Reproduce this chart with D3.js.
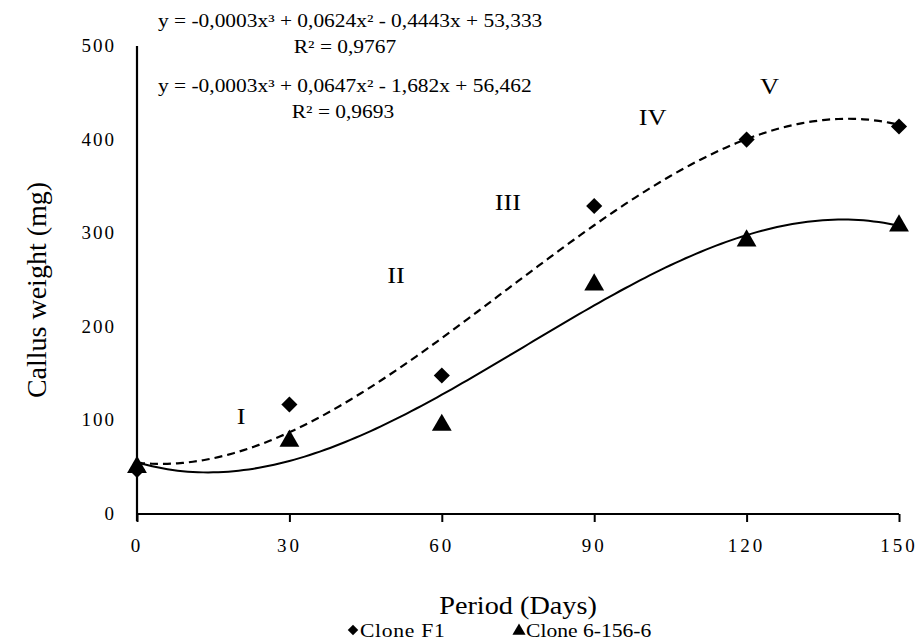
<!DOCTYPE html>
<html><head><meta charset="utf-8">
<script src="https://cdn.jsdelivr.net/npm/d3@7"></script>
<style>
html,body{margin:0;padding:0;background:#fff;}
text{font-family:"Liberation Serif","Times New Roman",serif;fill:#000;}
</style></head>
<body><svg id="c" width="917" height="641"></svg>
<script>
const days = [0, 30, 60, 90, 120, 150];
const cloneF1 = [47, 117, 148, 329, 400, 414];
const clone6156 = [50, 78, 95, 245, 292, 308];
const xTicks = [0, 30, 60, 90, 120, 150];
const yTicks = [0, 100, 200, 300, 400, 500];
const seriesNames = ["Clone F1", "Clone 6-156-6"];
const equations = ["y = -0,0003x³ + 0,0624x² - 0,4443x + 53,333", "R² = 0,9767",
                   "y = -0,0003x³ + 0,0647x² - 1,682x + 56,462", "R² = 0,9693"];
const phases = [{t:"I", x:20.5, y:105}, {t:"II", x:51, y:255}, {t:"III", x:73, y:333}, {t:"IV", x:101.5, y:424}, {t:"V", x:124.5, y:457}];

const svg = d3.select("#c");
const x = d3.scaleLinear().domain([0,150]).range([137,899]);
const y = d3.scaleLinear().domain([0,500]).range([514,46]);

// cubic least squares fit (trendline)
function fitCubic(xs, ys){
  const n=4, A=[...Array(n)].map(()=>Array(n+1).fill(0));
  xs.forEach((xv,k)=>{
    for(let i=0;i<n;i++){ for(let j=0;j<n;j++) A[i][j]+=Math.pow(xv,i+j); A[i][n]+=ys[k]*Math.pow(xv,i); }
  });
  for(let i=0;i<n;i++){
    let p=i; for(let r=i+1;r<n;r++) if(Math.abs(A[r][i])>Math.abs(A[p][i])) p=r;
    [A[i],A[p]]=[A[p],A[i]];
    for(let r=0;r<n;r++){ if(r===i) continue; const f=A[r][i]/A[i][i]; for(let c=i;c<=n;c++) A[r][c]-=f*A[i][c]; }
  }
  const c=A.map((row,i)=>row[n]/row[i]);
  return t=>c[0]+c[1]*t+c[2]*t*t+c[3]*t*t*t;
}
const f1 = fitCubic(days, cloneF1), f2 = fitCubic(days, clone6156);
const samples = d3.range(0,150.01,1);
const line = fn => d3.line().x(d=>x(d)).y(d=>y(fn(d)))(samples);

svg.append("path").attr("d", line(f1)).attr("fill","none").attr("stroke","#000").attr("stroke-width",2.2).attr("stroke-dasharray","8,5");
svg.append("path").attr("d", line(f2)).attr("fill","none").attr("stroke","#000").attr("stroke-width",2);

// axes
const xa = svg.append("g").attr("transform","translate(0,514)")
  .call(d3.axisBottom(x).tickValues(xTicks).tickSize(8).tickFormat(""));
xa.select(".domain").attr("stroke","#000").attr("stroke-width",2.2).attr("d","M137,0H899");
xa.selectAll(".tick line").attr("stroke","#000").attr("stroke-width",2);
const ya = svg.append("g").attr("transform","translate(137,0)")
  .call(d3.axisLeft(y).tickValues(yTicks).tickSize(0).tickFormat(""));
ya.select(".domain").attr("stroke","#000").attr("stroke-width",2.2).attr("d","M0,46V521");

// helper: horizontally stretched text
function stext(g, px, py, sx, str){
  return g.append("text").attr("transform",`translate(${px},${py}) scale(${sx},1)`).text(str);
}

// tick labels (letter-spaced like the reference)
svg.append("g").selectAll("text").data(xTicks).join("text")
  .attr("x",d=>x(d)).attr("y",552).attr("text-anchor","middle")
  .attr("font-size",19).attr("letter-spacing",3).text(d=>d);
svg.append("g").selectAll("text").data(yTicks).join("text")
  .attr("x",116).attr("y",d=>y(d)+6).attr("text-anchor","end")
  .attr("font-size",19).attr("letter-spacing",2).text(d=>d);

// axis titles
stext(svg, 518, 614, 1.13, "Period (Days)").attr("text-anchor","middle").attr("font-size",25);
svg.append("text").attr("transform","translate(46,290) rotate(-90)").attr("text-anchor","middle").attr("font-size",28).text("Callus weight (mg)");

// markers
const diamond = d3.symbol().type(d3.symbolSquare).size(130)();
const tri = d3.symbol().type(d3.symbolTriangle).size(170)();
svg.append("g").selectAll("path").data(days).join("path")
  .attr("d",tri).attr("transform",(d,i)=>`translate(${x(d)},${y(clone6156[i])})`).attr("fill","#000");
svg.append("g").selectAll("path").data(days).join("path")
  .attr("d",diamond).attr("transform",(d,i)=>`translate(${x(d)},${y(cloneF1[i])}) rotate(45)`).attr("fill","#000");

// equations
const eq = svg.append("g").attr("font-size",18);
stext(eq, 158, 27, 1.19, equations[0]);
stext(eq, 345, 53, 1.19, equations[1]).attr("text-anchor","middle");
stext(eq, 158, 92, 1.19, equations[2]);
stext(eq, 343, 118, 1.19, equations[3]).attr("text-anchor","middle");

// phase labels
svg.append("g").selectAll("text").data(phases).join("text")
  .attr("transform",d=>`translate(${x(d.x)},${y(d.y)}) scale(1.1,1)`).attr("text-anchor","middle").attr("dominant-baseline","central")
  .attr("font-size",24).text(d=>d.t);

// legend
const lg = svg.append("g").attr("font-size",18);
lg.append("path").attr("d",d3.symbol().type(d3.symbolSquare).size(55)()).attr("transform","translate(353,630) rotate(45)");
stext(lg, 360, 637, 1.2, seriesNames[0]).attr("letter-spacing",0.6);
lg.append("path").attr("d",d3.symbol().type(d3.symbolTriangle).size(75)()).attr("transform","translate(519,631)");
stext(lg, 526, 637, 1.2, seriesNames[1]);
</script></body></html>
